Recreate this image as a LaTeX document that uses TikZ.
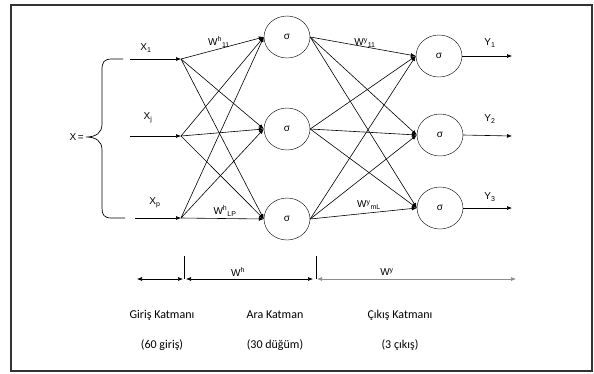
\documentclass[tikz,border=0pt]{standalone}
\usepackage{fontspec}
\setmainfont{Liberation Sans}
\newfontfamily\lowfont{Carlito}
\usetikzlibrary{arrows.meta,shapes.geometric}
\begin{document}
\begin{tikzpicture}[x=1pt,y=-1pt,
  neuron/.style={draw,ellipse,minimum width=46pt,minimum height=42pt,inner sep=0pt,font=\fontsize{10}{12}\selectfont},
  conn/.style={-{Latex[length=5pt,width=4pt]},line width=0.6pt},
  lbl/.style={font=\fontsize{10}{12}\selectfont,inner sep=0pt},
  low/.style={font=\lowfont\fontsize{12}{14}\selectfont,inner sep=0pt},
  dim/.style={{Latex[length=5pt,width=4pt]}-{Latex[length=5pt,width=4pt]},line width=0.6pt}]
\useasboundingbox (0,0) rectangle (594,373);
\draw[line width=1.2pt,black!80] (11,5) rectangle (592,371);
% hidden and output neurons
\node[neuron] (h1) at (287,37) {σ};
\node[neuron] (h2) at (287,129) {σ};
\node[neuron] (h3) at (287,219) {σ};
\node[neuron] (o1) at (439,56) {σ};
\node[neuron] (o2) at (440,135) {σ};
\node[neuron] (o3) at (440,208) {σ};
% input points
\coordinate (s1) at (130,59);
\coordinate (s2) at (130,136);
\coordinate (s3) at (135,218);
\coordinate (i1) at (181,59);
\coordinate (i2) at (181,136);
\coordinate (i3) at (181,218);
\draw[conn] (s1) -- (i1);
\draw[conn] (s2) -- (i2);
\draw[conn] (s3) -- (i3);
\node[lbl] (x1) at (146,48) {X\textsubscript{1}};
\node[lbl] (xj) at (148,118) {X\textsubscript{j}};
\node[lbl] (xp) at (155,203) {X\textsubscript{p}};
% brace
\draw[line width=0.7pt] (123,59) -- (112,59) .. controls (104,59) and (102,62) .. (102,70)
  -- (102,124) .. controls (102,133) and (96,137) .. (86,137)
  .. controls (96,137) and (102,141) .. (102,150)
  -- (102,208) .. controls (102,215) and (104,218) .. (112,218) -- (125,218);
\node[lbl,anchor=east] (xeq) at (84,137) {X\,=};
% input -> hidden
\foreach \i in {1,2,3}{
  \foreach \h in {1,2,3}{
    \draw[conn] (i\i) -- (h\h.west);
  }
}
% hidden -> output
\foreach \h in {1,2,3}{
  \foreach \o in {1,2,3}{
    \draw[conn] (h\h.east) -- (o\o.west);
  }
}
% outputs
\coordinate (e1) at (512,56);
\coordinate (e2) at (512,136);
\coordinate (e3) at (512,208);
\draw[conn] (o1.east) -- (e1);
\draw[conn] (o2.east) -- (e2);
\draw[conn] (o3.east) -- (e3);
\node[lbl] (y1) at (490,43) {Y\textsubscript{1}};
\node[lbl] (y2) at (490,119) {Y\textsubscript{2}};
\node[lbl] (y3) at (490,197) {Y\textsubscript{3}};
% weight labels
\node[lbl] (wh11) at (219,42) {W\textsuperscript{h}\textsubscript{11}};
\node[lbl] (whlp) at (225,211) {W\textsuperscript{h}\textsubscript{LP}};
\node[lbl] (wy11) at (365,43) {W\textsuperscript{y}\textsubscript{11}};
\node[lbl] (wyml) at (369,205) {W\textsuperscript{y}\textsubscript{mL}};
% bottom dimension lines
\coordinate (b0) at (137,279);
\coordinate (b1) at (183,279);
\coordinate (b2) at (186,279);
\coordinate (b3) at (313,279);
\coordinate (b4) at (317,279);
\coordinate (b5) at (516,279);
\coordinate (t1) at (184,256);
\coordinate (t2) at (316,256);
\draw[dim] (b0) -- (b1);
\draw[dim] (b2) -- (b3);
\draw[dim,draw=black!45] (b4) -- (b5);
\draw[line width=0.6pt] (t1) -- (t1 |- b1);
\draw[line width=0.6pt] (t2) -- (t2 |- b3);
\node[lbl] (wh) at (238,272) {W\textsuperscript{h}};
\node[lbl] (wy) at (387,272) {W\textsuperscript{y}};
\node[low] (g1) at (162,315) {Giriş Katmanı};
\node[low] (g2) at (275,315) {Ara Katman};
\node[low] (g3) at (400,315) {Çıkış Katmanı};
\node[low] (n1) at (162,345) {(60 giriş)};
\node[low] (n2) at (275,345) {(30 düğüm)};
\node[low] (n3) at (400,345) {(3 çıkış)};
\end{tikzpicture}
\end{document}
